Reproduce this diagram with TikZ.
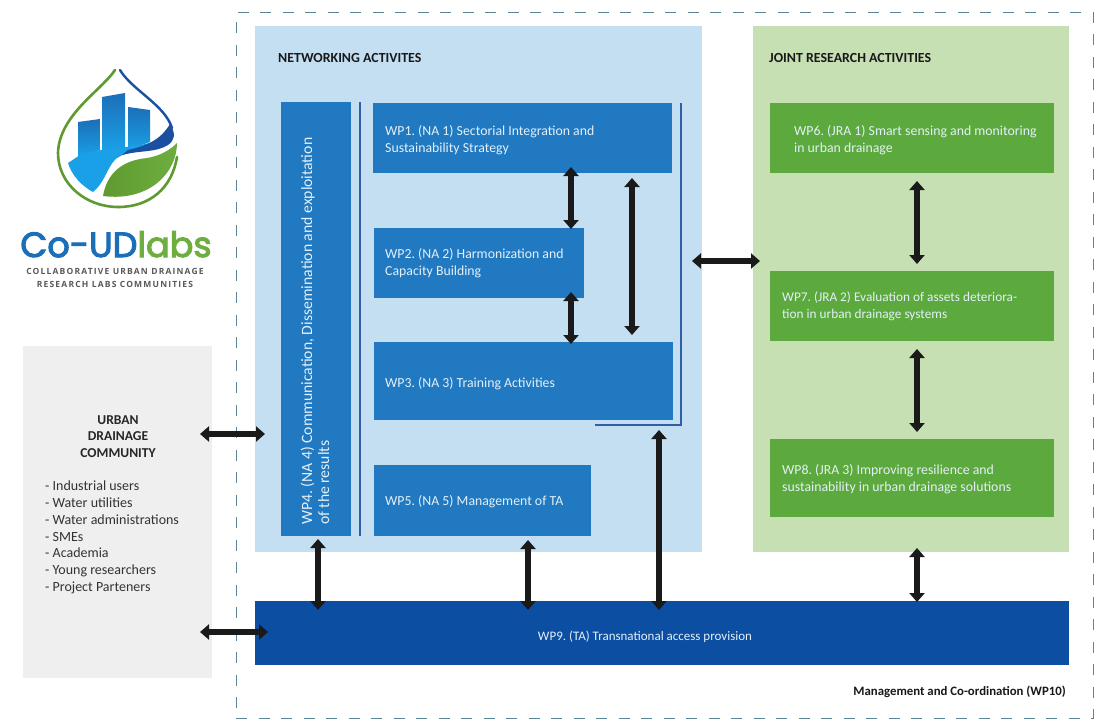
\documentclass[tikz,border=0pt]{standalone}
\usepackage{fontspec}
\setmainfont{Carlito}
\newfontfamily\logofont[FakeBold=3]{Poppins}
\newfontfamily\subfont[LetterSpace=14]{Open Sans}
\usetikzlibrary{arrows.meta}
\definecolor{nabg}{HTML}{C5DFF2}
\definecolor{jrabg}{HTML}{C6E0B4}
\definecolor{nabox}{HTML}{2079C1}
\definecolor{jrabox}{HTML}{5CA93E}
\definecolor{tabox}{HTML}{0B4EA2}
\definecolor{grayp}{HTML}{EFEFEF}
\definecolor{dashc}{HTML}{5B8497}
\definecolor{linec}{HTML}{2F5FA8}
\definecolor{arrc}{HTML}{1A1A1A}
\definecolor{lblue}{HTML}{1AA0E6}
\definecolor{mblue}{HTML}{1B6FB8}
\definecolor{dblue}{HTML}{1C4FA0}
\definecolor{lgreen}{HTML}{6DAE3F}
\definecolor{ogreen}{HTML}{5F9A30}
\definecolor{wptext}{HTML}{E4F0F8}
\tikzset{
  x=1pt,y=-1pt,
  panel/.style={anchor=north west,inner sep=0pt,outer sep=0pt},
  wp/.style n args={3}{panel,fill=#3,minimum width=#1,minimum height=#2},
  wptxt/.style={anchor=west,inner sep=0pt,align=left,text=wptext,font=\fontsize{13.8}{17}\selectfont},
  twoway/.style={line width=6pt,arrc,{Triangle[width=15pt,length=9pt]}-{Triangle[width=15pt,length=9pt]}},
  heading/.style={anchor=west,inner sep=0pt,font=\fontsize{13.9}{16}\selectfont\bfseries,text=black!90},
  building/.style={top color=mblue,bottom color=lblue,draw=none},
}
\begin{document}
\frenchspacing
\begin{tikzpicture}
\useasboundingbox (0,0) rectangle (1099,720);
\fill[white] (0,0) rectangle (1099,720);

% logo
\path[draw=ogreen,line width=2.6pt,line cap=round]
  (115,70) .. controls (102,90) and (59,115) .. (58,153)
  .. controls (58,184) and (86,207) .. (118,207)
  .. controls (150,207) and (172,188) .. (177,157);
\path[draw=dblue,line width=2.4pt,line cap=round]
  (120,70) .. controls (132,90) and (165,105) .. (172,128);
\shade[building] (78,122) -- (100,119) -- (100,150) -- (78,157) -- cycle;
\shade[building] (102,97) -- (125,93) -- (125,150) -- (102,150) -- cycle;
\shade[building] (128,107) -- (150,110) -- (150,142) -- (128,150) -- cycle;
\fill[lblue] (68,163) -- (80,155) .. controls (105,146) and (130,150) .. (160,140)
  -- (163,146) .. controls (140,154) and (122,150) .. (113,162)
  .. controls (106,172) and (103,184) .. (93,192)
  .. controls (82,186) and (72,176) .. (68,163) -- cycle;
\fill[dblue] (128,150) .. controls (145,146) and (160,141) .. (170,124)
  .. controls (176,134) and (175,140) .. (168,145)
  .. controls (155,153) and (140,150) .. (122,155) -- cycle;
\shade[left color=ogreen,right color=lgreen] (177,143) .. controls (177,172) and (150,202) .. (103,196)
  .. controls (108,168) and (128,160) .. (147,158)
  .. controls (160,156) and (170,150) .. (177,143) -- cycle;
\node[anchor=base,inner sep=0pt,text depth=0pt,font=\logofont\fontsize{35}{35}\selectfont] (logotitle) at (116,257)
  {\textcolor{mblue}{Co-UD}\textcolor{lgreen}{labs}};
\node[anchor=center,inner sep=0pt,align=center,text=black!65,font=\subfont\fontsize{8.5}{13.5}\selectfont\bfseries] (logosub) at (115,278)
  {COLLABORATIVE URBAN DRAINAGE\\RESEARCH LABS COMMUNITIES};

% panels
\node[panel,fill=grayp,minimum width=189pt,minimum height=332pt] (comm) at (23,346) {};
\node[anchor=north,inner sep=0pt,align=center,font=\fontsize{13.6}{16.8}\selectfont\bfseries,text=black!85] (commtitle) at (118,415) {URBAN\\DRAINAGE\\COMMUNITY};
\node[anchor=north west,inner sep=0pt,align=left,font=\fontsize{14}{16.7}\selectfont,text=black!80] (commlist) at (45,481)
 {- Industrial users\\- Water utilities\\- Water administrations\\- SMEs\\- Academia\\- Young researchers\\- Project Parteners};

\node[panel,draw=dashc,dash pattern=on 11pt off 11.5pt,line width=1pt,minimum width=857pt,minimum height=706pt] (outer) at (236,12) {};
\node[panel,fill=nabg,minimum width=447pt,minimum height=526pt] (na) at (255,26) {};
\node[panel,fill=jrabg,minimum width=316pt,minimum height=526pt] (jra) at (753,26) {};

\node[heading] (natitle) at (278,58) {NETWORKING ACTIVITES};
\node[heading] (jratitle) at (769,58) {JOINT RESEARCH ACTIVITIES};

% NA work packages
\node[wp={299pt}{70pt}{nabox}] (wp1) at (373,103) {};
\node[wptxt] (wp1t) at ([shift={(12,2)}]wp1.west) {WP1. (NA 1) Sectorial Integration and\\Sustainability Strategy};
\node[wp={210pt}{70pt}{nabox}] (wp2) at (374,228) {};
\node[wptxt] (wp2t) at ([shift={(11,0)}]wp2.west) {WP2. (NA 2) Harmonization and\\Capacity Building};
\node[wp={299pt}{78pt}{nabox}] (wp3) at (374,342) {};
\node[wptxt] (wp3t) at ([shift={(11,3)}]wp3.west) {WP3. (NA 3) Training Activities};
\node[wp={217pt}{71pt}{nabox}] (wp5) at (374,465) {};
\node[wptxt] (wp5t) at ([shift={(11,1)}]wp5.west) {WP5. (NA 5) Management of TA};
\node[wp={70pt}{434pt}{nabox}] (wp4) at (281,102) {};
\node[wptxt,rotate=90,font=\fontsize{15.7}{17}\selectfont] (wp4t) at (315,525) {WP4. (NA 4) Communication, Dissemination and exploitation\\of the results};

% JRA work packages
\node[wp={284pt}{70pt}{jrabox}] (wp6) at (770,103) {};
\node[wptxt] (wp6t) at ([shift={(24,2)}]wp6.west) {WP6. (JRA 1) Smart sensing and monitoring\\in urban drainage};
\node[wp={284pt}{70pt}{jrabox}] (wp7) at (770,271) {};
\node[wptxt,font=\fontsize{13.3}{17}\selectfont] (wp7t) at ([shift={(12,0)}]wp7.west) {WP7. (JRA 2) Evaluation of assets deteriora-\\tion in urban drainage systems};
\node[wp={284pt}{78pt}{jrabox}] (wp8) at (770,439) {};
\node[wptxt] (wp8t) at ([shift={(12,1)}]wp8.west) {WP8. (JRA 3) Improving resilience and\\sustainability in urban drainage solutions};

\node[panel,fill=tabox,minimum width=814pt,minimum height=64pt] (wp9) at (255,601) {};
\node[inner sep=0pt,text=wptext,font=\fontsize{13}{17}\selectfont] (wp9text) at (645,637) {WP9. (TA) Transnational access provision};

\node[anchor=east,inner sep=0pt,font=\fontsize{12.8}{15}\selectfont\bfseries,text=black!90] (mgmt) at (1066,692) {Management and Co-ordination (WP10)};

% brackets
\coordinate (vlinetop) at (360,102);
\coordinate (vlinebot) at (360,536);
\draw[linec,line width=1.1pt] (vlinetop) -- (vlinebot);
\coordinate (brtop) at (681,103);
\coordinate (brcorner) at (681,425);
\coordinate (brend) at (595,425);
\draw[linec,line width=1.1pt] (brtop) -- (brcorner) -- (brend);

% connector columns
\coordinate (c1) at (571,0);
\coordinate (c2) at (632,0);
\coordinate (c3) at (917,0);
\coordinate (c4) at (659,0);
\coordinate (c5) at (528,0);
\coordinate (c6) at (318,0);
\coordinate (r1) at (0,261);
\coordinate (r2) at (0,434);
\coordinate (r3) at (0,632);

\draw[twoway,shorten <=-6pt,shorten >=-1pt] (wp1.south -| c1) -- (wp2.north -| c1);
\draw[twoway,shorten <=-6pt,shorten >=-2pt] (wp2.south -| c1) -- (wp3.north -| c1);
\draw[twoway,shorten <=5pt,shorten >=7pt] (wp1.south -| c2) -- (wp3.north -| c2);
\draw[twoway,shorten <=-10pt,shorten >=-7pt] (na.east |- r1) -- (jra.west |- r1);
\draw[twoway,shorten <=8pt,shorten >=7pt] (wp6.south -| c3) -- (wp7.north -| c3);
\draw[twoway,shorten <=8pt,shorten >=7pt] (wp7.south -| c3) -- (wp8.north -| c3);
\draw[twoway,shorten <=-4pt,shorten >=-1pt] (jra.south -| c3) -- (wp9.north -| c3);
\draw[twoway,shorten <=10pt,shorten >=-9pt] (wp3.south -| c4) -- (wp9.north -| c4);
\draw[twoway,shorten <=-12pt,shorten >=-9pt] (na.south -| c5) -- (wp9.north -| c5);
\draw[twoway,shorten <=3pt,shorten >=-9pt] (wp4.south -| c6) -- (wp9.north -| c6);
\draw[twoway,shorten <=-12pt,shorten >=16pt] (comm.east |- r2) -- (wp4.west |- r2);
\draw[twoway,shorten <=-12pt,shorten >=-13pt] (comm.east |- r3) -- (wp9.west |- r3);
\end{tikzpicture}
\end{document}
